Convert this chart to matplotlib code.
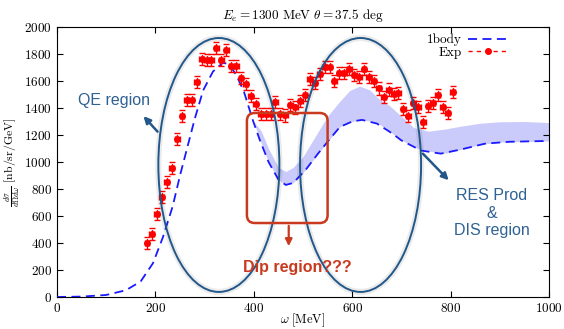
import numpy as np
import matplotlib
matplotlib.use("Agg")
import matplotlib.pyplot as plt
from matplotlib.patches import Ellipse, FancyBboxPatch
from matplotlib.lines import Line2D

plt.rcParams['font.family'] = 'serif'
plt.rcParams['font.serif'] = ['cmr10']
plt.rcParams['mathtext.fontset'] = 'cm'
plt.rcParams['axes.formatter.use_mathtext'] = True

# ---- data ----
omega_exp = [183, 193, 203, 213, 223, 233, 244, 254, 264, 274, 284, 294, 304, 314,
             324, 334, 344, 354, 364, 374, 384, 394, 404, 414, 424, 434, 444, 454,
             464, 474, 484, 494, 504, 514, 524, 534, 544, 554, 564, 574, 584, 594,
             604, 614, 624, 634, 644, 654, 664, 674, 684, 694, 704, 714, 724, 734,
             744, 754, 764, 774, 784, 794, 804]
xs_exp = [398, 467, 615, 738, 849, 953, 1173, 1343, 1459, 1459, 1595, 1765, 1755, 1755,
          1847, 1755, 1830, 1714, 1714, 1625, 1575, 1490, 1430, 1356, 1356, 1353, 1445, 1356,
          1345, 1420, 1404, 1454, 1496, 1612, 1583, 1649, 1701, 1701, 1603, 1662, 1662, 1686,
          1647, 1627, 1686, 1632, 1603, 1545, 1484, 1537, 1503, 1514, 1390, 1341, 1440, 1410,
          1299, 1412, 1435, 1496, 1405, 1366, 1521]
err_exp = 45
xerr_exp = 5

omega_th = [0, 50, 100, 140, 170, 195, 215, 235, 250, 265, 280, 297, 317, 337, 350,
            365, 380, 398, 412, 430, 450, 465, 480, 505, 530, 550, 575, 600, 620, 650,
            680, 700, 740, 780, 820, 870, 920, 1000]
onebody = [0, 3, 15, 50, 115, 250, 440, 670, 900, 1110, 1320, 1530, 1670, 1735, 1725,
           1640, 1520, 1310, 1165, 1000, 870, 830, 845, 940, 1060, 1150, 1260, 1300, 1312, 1285,
           1215, 1160, 1085, 1062, 1092, 1136, 1150, 1156]

band_omega = [400, 415, 430, 450, 465, 480, 500, 525, 550, 575, 595, 615, 635, 655,
              675, 695, 725, 755, 790, 820, 860, 900, 950, 1000]
band_low = [1295, 1140, 1000, 870, 830, 845, 920, 1035, 1150, 1260, 1295, 1312, 1305, 1280,
            1230, 1175, 1110, 1080, 1065, 1092, 1130, 1147, 1152, 1156]
band_high = [1300, 1230, 1100, 960, 930, 960, 1040, 1190, 1340, 1450, 1530, 1562, 1535, 1465,
             1420, 1355, 1255, 1228, 1245, 1265, 1287, 1298, 1300, 1292]

xticks = [0, 200, 400, 600, 800, 1000]
yticks = [0, 200, 400, 600, 800, 1000, 1200, 1400, 1600, 1800, 2000]

# ---- figure ----
fig = plt.figure(figsize=(5.64, 3.29), dpi=100)
ax = fig.add_axes([57/564, 1-297/329, (549-57)/564, (297-27)/329])

ax.fill_between(band_omega, band_low, band_high, color='#cbcbfb', lw=0, zorder=1)
ax.plot(omega_th, onebody, color='#1a1aff', lw=1.3, dashes=(5, 3), zorder=3)

eb = ax.errorbar(omega_exp, xs_exp, yerr=err_exp, xerr=xerr_exp, fmt='o', color='#ff0000',
                 ms=4, elinewidth=1.0, capsize=2, capthick=1.0, zorder=4)
for lc in eb[2]:
    lc.set_linestyle((0, (3, 1.5)))

ax.set_xlim(0, 1000)
ax.set_ylim(0, 2000)
ax.set_xticks(xticks)
ax.set_yticks(yticks)
ax.tick_params(direction='in', top=True, right=True, labelsize=9.5, length=4, width=0.8)
ax.set_title(r'$E_e = 1300\ \mathrm{MeV}\ \theta = 37.5\ \mathrm{deg}$', fontsize=9.5, pad=6)
ax.set_xlabel(r'$\omega\ [\mathrm{MeV}]$', fontsize=9)
ax.xaxis.set_label_coords(0.5, -0.055)
ax.set_ylabel(r'$\frac{d\sigma}{d\Omega d\omega}\ [\mathrm{nb/sr/GeV}]$', fontsize=8.5)
ax.yaxis.set_label_coords(-0.072, 0.5)

handles = [Line2D([], [], color='#1a1aff', lw=1.3, dashes=(5, 3)),
           Line2D([], [], color='#ff0000', lw=1.0, dashes=(3, 3), marker='o', ms=4)]
ax.legend(handles, ['1body', 'Exp'], loc='upper right', bbox_to_anchor=(0.935, 1.01),
          frameon=False, markerfirst=False, fontsize=9.5, handlelength=3.0, borderpad=0.2,
          labelspacing=0.05, handletextpad=0.5)

# ---- annotations ----
ell_color = '#22578a'
for cx in (329, 617):
    ax.add_patch(Ellipse((cx, 978), 246, 1881, fill=False, lw=4.5, ec='#000000',
                         alpha=0.08, zorder=5))
    ax.add_patch(Ellipse((cx, 978), 246, 1881, fill=False, lw=1.4, ec=ell_color, zorder=6))

red = '#c8391e'
aspect = (0.4925 / 0.135)
ax.add_patch(FancyBboxPatch((386, 548), 164, 815,
                            boxstyle='round,pad=0,rounding_size=16',
                            mutation_aspect=aspect, fill=False, ec=red, lw=1.8, zorder=6))
ax.annotate('', xy=(471, 356), xytext=(471, 548),
            arrowprops=dict(arrowstyle='-|>', color=red, lw=1.6, mutation_scale=10))
ax.text(488, 222, 'Dip region???', color=red, fontsize=11.5, fontweight='bold',
        family='Liberation Sans', ha='center', va='center', zorder=7)

txt_color = '#2f6193'
ax.text(116, 1452, 'QE region', color=txt_color, fontsize=11.5, family='Liberation Sans',
        ha='center', va='center')
ax.annotate('', xy=(172, 1355), xytext=(208, 1210),
            arrowprops=dict(arrowstyle='-|>', color=ell_color, lw=1.8, mutation_scale=10))
ax.text(883, 622, 'RES Prod\n&\nDIS region', color=txt_color, fontsize=11.5,
        family='Liberation Sans', ha='center', va='center', linespacing=1.2)
ax.annotate('', xy=(800, 850), xytext=(740, 1076),
            arrowprops=dict(arrowstyle='-|>', color=ell_color, lw=1.8, mutation_scale=10))

fig.savefig('out.png', dpi=100)
